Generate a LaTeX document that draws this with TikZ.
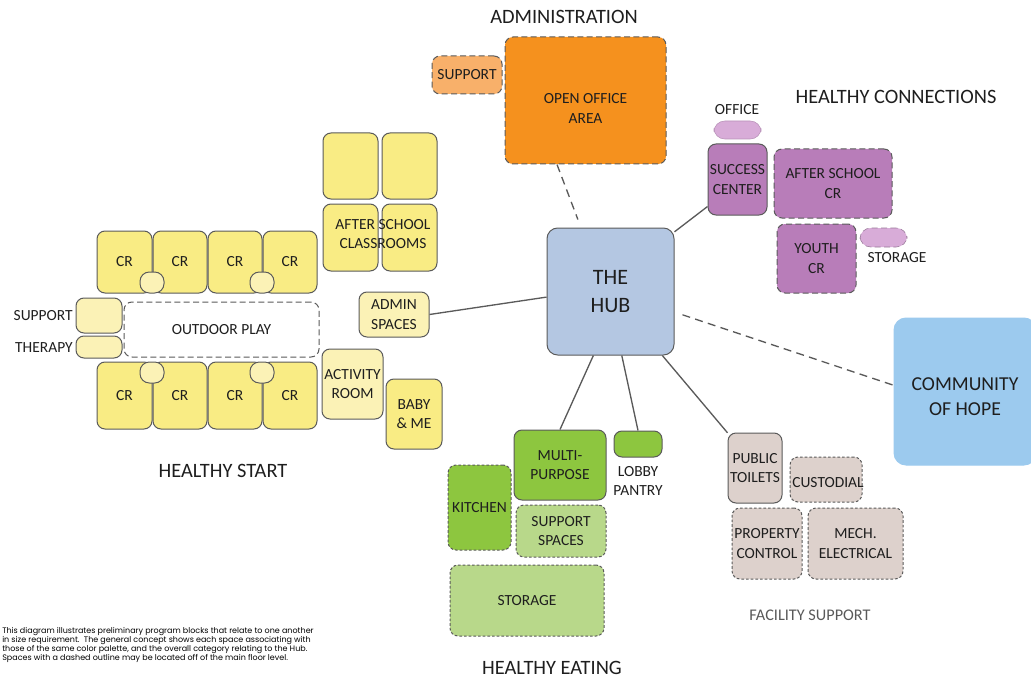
\documentclass[tikz,border=0pt]{standalone}
\usepackage{fontspec}
\setmainfont{Carlito}
\newfontfamily\notefont{Poppins}
\usetikzlibrary{fit}
\definecolor{orangeA}{HTML}{F5911E}
\definecolor{orangeB}{HTML}{F8B06A}
\definecolor{hubc}{HTML}{B4C7E2}
\definecolor{commc}{HTML}{9CCAEE}
\definecolor{purpD}{HTML}{B87DB9}
\definecolor{purpL}{HTML}{D8ACD8}
\definecolor{yelD}{HTML}{F9EC84}
\definecolor{yelL}{HTML}{FBF2B6}
\definecolor{grnD}{HTML}{8DC63F}
\definecolor{grnL}{HTML}{B8D88A}
\definecolor{taupe}{HTML}{DDD1CC}
\definecolor{edge}{HTML}{5A5A5A}
\definecolor{txtc}{HTML}{1E1E1E}
\newcommand\blk[8][]{%
  \node[#7, fit={(#3,#4) (#5,#6)}, inner sep=0pt] (#2) {};
  \node[lbl, #1] (#2-t) at (#2.center) {#8};}
\tikzset{
  blk/.style={draw=edge, line width=0.75pt, rounded corners=6pt},
  dsh/.style={blk, dash pattern=on 4.5pt off 2.5pt},
  dot/.style={blk, dash pattern=on 2pt off 1.5pt},
  lbl/.style={font=\fontsize{11.6}{14.5}\selectfont, align=center, text=txtc, inner sep=0pt},
  head/.style={font=\fontsize{15.3}{18}\selectfont, text=txtc, inner sep=0pt},
  conn/.style={draw=edge, line width=1pt},
  dconn/.style={conn, dash pattern=on 6pt off 4pt},
}
\begin{document}
\begin{tikzpicture}[x=0.75pt,y=-0.75pt]
\useasboundingbox (0,0) rectangle (1031,681);
% ---------- ADMINISTRATION
\node[head] (hadm) at (564,17) {ADMINISTRATION};
\blk{asup}{432}{56}{502}{94}{dsh, fill=orangeB}{SUPPORT}
\blk[yshift=-6pt]{office}{505}{37}{666}{164}{dsh, fill=orangeA}{OPEN OFFICE\\AREA}
% ---------- HUB & COMMUNITY
\blk[font=\fontsize{16.5}{21}\selectfont]{hub}{547}{228}{674}{355}{blk, fill=hubc, rounded corners=8pt}{THE\\HUB}
\blk[font=\fontsize{14.8}{18.5}\selectfont, yshift=-4pt]{comm}{894}{318}{1036}{465}{blk, draw=commc, fill=commc, rounded corners=9pt}{COMMUNITY\\OF HOPE}
% ---------- HEALTHY CONNECTIONS
\node[head] (hcon) at (896,97) {HEALTHY CONNECTIONS};
\node[lbl] (offl) at (737,110) {OFFICE};
\blk{offb}{714}{121}{761}{139}{blk, draw=purpL!85!black, line width=0.4pt, fill=purpL, rounded corners=8pt}{}
\blk{succ}{708}{144}{767}{215}{blk, fill=purpD}{SUCCESS\\CENTER}
\blk{ascr}{774}{149}{892}{218}{dsh, fill=purpD}{AFTER SCHOOL\\CR}
\blk{youth}{777}{224}{856}{293}{dsh, fill=purpD}{YOUTH\\CR}
\blk{pstor}{860}{228}{907}{247}{dsh, draw=purpL!70!black, line width=0.4pt, fill=purpL, rounded corners=8pt}{}
\node[lbl] (pstorl) at (897,258) {STORAGE};
% ---------- HEALTHY START
\blk{asa}{323}{133}{378}{199}{blk, fill=yelD}{}
\blk{asb}{382}{133}{437}{199}{blk, fill=yelD}{}
\blk{asc}{323}{204}{378}{271}{blk, fill=yelD}{}
\blk{asd}{382}{204}{437}{271}{blk, fill=yelD}{}
\node[lbl] (asl) at (383,234) {AFTER SCHOOL\\CLASSROOMS};
\blk{cra}{97}{231}{152}{293}{blk, fill=yelD}{CR}
\blk{crb}{153}{231}{207}{293}{blk, fill=yelD}{CR}
\blk{crc}{208}{231}{262}{293}{blk, fill=yelD}{CR}
\blk{crd}{263}{231}{317}{293}{blk, fill=yelD}{CR}
\blk{sqa}{140}{272}{164}{293}{blk, fill=yelL, rounded corners=7pt}{}
\blk{sqb}{250}{272}{274}{293}{blk, fill=yelL, rounded corners=7pt}{}
\blk{hsup}{76}{298}{122}{333}{blk, fill=yelL}{}
\node[lbl, anchor=east] (hsupl) at (73,316) {SUPPORT};
\blk{ther}{76}{336}{122}{358}{blk, fill=yelL}{}
\node[lbl, anchor=east] (therl) at (73,348) {THERAPY};
\blk{play}{124}{302}{319}{357}{dsh, fill=white}{OUTDOOR PLAY}
\blk{cre}{97}{362}{152}{429}{blk, fill=yelD}{CR}
\blk{crf}{153}{362}{207}{429}{blk, fill=yelD}{CR}
\blk{crg}{208}{362}{262}{429}{blk, fill=yelD}{CR}
\blk{crh}{263}{362}{317}{429}{blk, fill=yelD}{CR}
\blk{sqc}{140}{362}{164}{383}{blk, fill=yelL, rounded corners=7pt}{}
\blk{sqd}{250}{362}{274}{383}{blk, fill=yelL, rounded corners=7pt}{}
\blk{adsp}{359}{292}{429}{337}{blk, fill=yelL}{ADMIN\\SPACES}
\blk{act}{322}{349}{383}{419}{blk, fill=yelL}{ACTIVITY\\ROOM}
\blk{baby}{386}{379}{442}{449}{blk, fill=yelD}{BABY\\\&~ME}
\node[head] (hstart) at (223,471) {HEALTHY START};
% ---------- HEALTHY EATING
\blk{multi}{514}{430}{606}{500}{blk, fill=grnD}{MULTI-\\PURPOSE}
\blk{lobby}{614}{431}{662}{457}{blk, fill=grnD}{}
\node[lbl] (lobbyl) at (638,481) {LOBBY\\PANTRY};
\blk{kitch}{448}{465}{511}{550}{dot, fill=grnD}{KITCHEN}
\blk{supsp}{516}{505}{606}{557}{dot, fill=grnL}{SUPPORT\\SPACES}
\blk{estor}{450}{565}{604}{636}{dot, fill=grnL}{STORAGE}
\node[head] (heat) at (552,668) {HEALTHY EATING};
% ---------- FACILITY SUPPORT
\blk{toil}{728}{433}{782}{503}{blk, fill=taupe}{PUBLIC\\TOILETS}
\blk{cust}{790}{457}{862}{502}{dot, fill=taupe}{}
\node[lbl] (custl) at (828,483) {CUSTODIAL};
\blk{prop}{732}{508}{802}{579}{dot, fill=taupe}{PROPERTY\\CONTROL}
\blk{mech}{808}{508}{903}{579}{dot, fill=taupe}{MECH.\\ELECTRICAL}
\node[lbl, font=\fontsize{12.2}{14}\selectfont, text=black!65] (hfac) at (810,615) {FACILITY SUPPORT};
% ---------- connectors
\draw[dconn] (office.246) -- ([yshift=6pt]hub.117);
\draw[dconn] ([xshift=6pt]hub.340) -- (comm.175);
\draw[conn] (hub.43) -- (succ.222);
\draw[conn] (adsp.east) -- (hub.185);
\draw[conn] (hub.255) -- (multi.north);
\draw[conn] (hub.280) -- (lobby.north);
\draw[conn] (hub.309) -- (toil.128);
% ---------- note
\node[anchor=north west, align=left, inner sep=0pt, font=\notefont\fontsize{6.0}{6.75}\selectfont, text=black] (note) at (2,627)
{This diagram illustrates preliminary program blocks that relate to one another\\
in size requirement.\ \ The general concept shows each space associating with\\
those of the same color palette, and the overall category relating to the Hub.\\
Spaces with a dashed outline may be located off of the main floor level.};
\end{tikzpicture}
\end{document}
